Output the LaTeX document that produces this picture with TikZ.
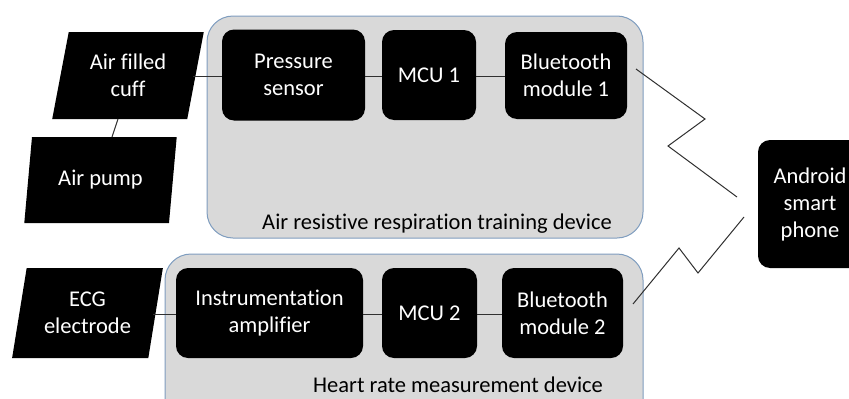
\documentclass[tikz,border=0pt]{standalone}
\usepackage{fontspec}
\setmainfont[RawFeature={-liga;-dlig}]{Carlito}
\usetikzlibrary{shapes.geometric}
\definecolor{panel}{HTML}{D9D9D9}
\definecolor{panelborder}{HTML}{7F9DBF}
\definecolor{wire}{HTML}{303030}
\begin{document}
\begin{tikzpicture}[x=1pt,y=-1pt,
  txt/.style={font=\fontsize{22.5}{27}\selectfont, align=center},
  blk/.style={txt, fill=black, text=white, rounded corners=12pt, inner sep=0pt},
  para/.style={txt, shape=trapezium, fill=black, text=white, trapezium left angle=76, trapezium right angle=104, trapezium stretches=true, inner sep=0pt},
  panelbox/.style={fill=panel, draw=panelborder, line width=1pt, rounded corners=26pt},
  wireline/.style={draw=wire, line width=1pt}]
\useasboundingbox (0,0) rectangle (849,399);
\clip (0,0) rectangle (849,399);
% containers
\draw[panelbox] (207,16) rectangle (643,238);
\draw[panelbox] (165,254) rectangle (643,430);
\node[txt, text=black] (toplabel) at (437,224) {Air resistive respiration training device};
\node[txt, text=black] (botlabel) at (458,385) {Heart rate measurement device};
% top row
\node[para, minimum width=152pt, minimum height=87pt] (cuff) at (128,75.5) {Air filled\\cuff};
\node[para, minimum width=153pt, minimum height=86pt] (pump) at (100.5,180) {Air pump};
\node[blk, minimum width=143pt, minimum height=91pt] (press) at (293.5,75) {Pressure\\sensor};
\node[blk, minimum width=94pt, minimum height=90pt] (mcu1) at (429,75) {MCU 1};
\node[blk, minimum width=122pt, minimum height=87pt] (bt1) at (566,75.5) {Bluetooth\\module 1};
% bottom row
\node[para, minimum width=151pt, minimum height=90pt] (ecg) at (87.5,313) {ECG\\electrode};
\node[blk, minimum width=187pt, minimum height=90pt] (ia) at (269.5,313) {Instrumentation\\amplifier};
\node[blk, minimum width=95pt, minimum height=90pt] (mcu2) at (429.5,313) {MCU 2};
\node[blk, minimum width=121pt, minimum height=90pt] (bt2) at (562.5,313) {Bluetooth\\module 2};
% phone
\node[blk, minimum width=104pt, minimum height=128pt] (phone) at (810,204) {Android\\smart\\phone};
% connectors
\coordinate (cuffR) at (193,76);
\coordinate (cuffB) at (118,119);
\coordinate (pumpT) at (112,137);
\coordinate (ecgR) at (153,314);
\draw[wireline] (cuffR) -- (press.west |- cuffR);
\draw[wireline] (cuffB) -- (pumpT);
\draw[wireline] (press.east |- 0,76) -- (mcu1.west |- 0,76);
\draw[wireline] (mcu1.east |- 0,76) -- (bt1.west |- 0,76);
\draw[wireline] (ecgR) -- (ia.west |- ecgR);
\draw[wireline] (ia.east |- 0,314) -- (mcu2.west |- 0,314);
\draw[wireline] (mcu2.east |- 0,314) -- (bt2.west |- 0,314);
% wireless zigzags
\coordinate (z1a) at (636,69);
\coordinate (z1b) at (705,119);
\coordinate (z1c) at (668,146);
\coordinate (z1d) at (737,197);
\coordinate (z2a) at (633,304);
\coordinate (z2b) at (679,248);
\coordinate (z2c) at (698,273);
\coordinate (z2d) at (744,217);
\draw[wireline] (z1a) -- (z1b) -- (z1c) -- (z1d);
\draw[wireline] (z2a) -- (z2b) -- (z2c) -- (z2d);
\end{tikzpicture}
\end{document}
